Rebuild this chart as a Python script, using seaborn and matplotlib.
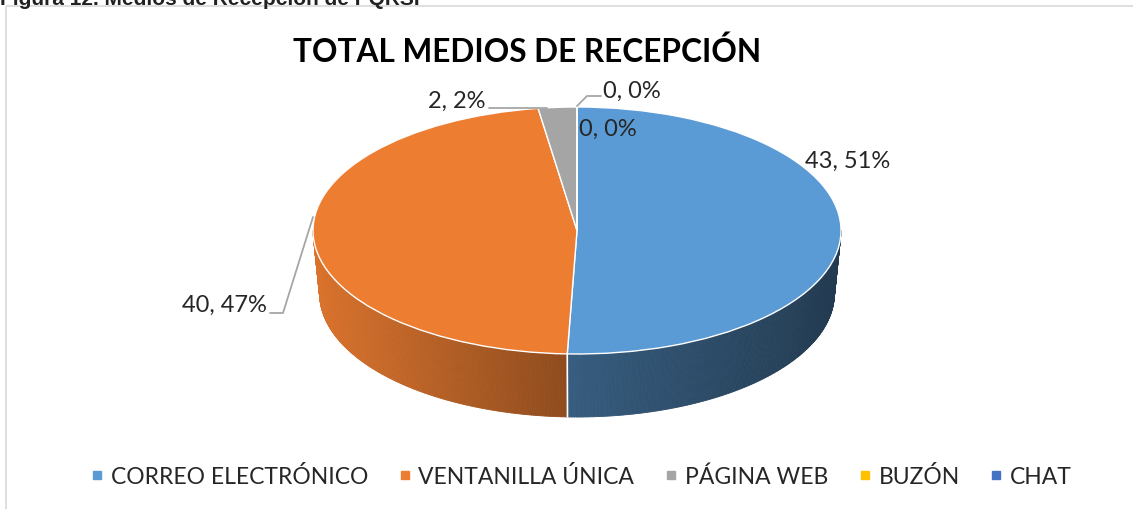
import numpy as np
import matplotlib
matplotlib.use("Agg")
import matplotlib.pyplot as plt
import seaborn as sns
from matplotlib.patches import Rectangle
from matplotlib.lines import Line2D
from matplotlib.collections import PolyCollection
from matplotlib.colors import to_rgb

# ---------------- data ----------------
categories = ["CORREO ELECTRÓNICO", "VENTANILLA ÚNICA", "PÁGINA WEB", "BUZÓN", "CHAT"]
values = [43, 40, 2, 0, 0]
colors = ["#5B9BD5", "#ED7D31", "#A5A5A5", "#FFC000", "#4472C4"]
title = "TOTAL MEDIOS DE RECEPCIÓN"
caption = "Figura 12. Medios de Recepción de PQRSF"

sns.set_theme(style="white")
plt.rcParams['font.family'] = ['Lato', 'DejaVu Sans']

W, H = 1133, 510
fig = plt.figure(figsize=(W / 100, H / 100), dpi=100)
fig.patch.set_facecolor("white")

# pie geometry (pixels)
cx, cy, rx, ry, depth = 577, 231.5, 264, 123.5, 63
k_bottom = 0.975

ax = fig.add_axes([0, 0, 1, 1])
wedges, _ = ax.pie(values, colors=colors, startangle=90, counterclock=False,
                   radius=1, center=(0, 0), frame=True,
                   wedgeprops=dict(edgecolor="white", linewidth=1.0))
for w in wedges:
    w.set_zorder(3)
ax.set_aspect("auto")
ax.set_xlim((0 - cx) / rx, (W - cx) / rx)
ax.set_ylim((cy - H) / ry, (cy - 0) / ry)
ax.axis("off")

d = depth / ry


def shade(c):
    return 0.59 - 0.33 * c if c < 0 else 0.59 - 0.21 * c


polys, pcols = [], []
edges = []
for w, col in zip(wedges, colors):
    t1, t2 = w.theta1, w.theta2
    if t2 - t1 <= 0:
        continue
    base = np.array(to_rgb(col))
    angs = np.linspace(t1, t2, max(int((t2 - t1) * 2), 2))
    for a, b in zip(angs[:-1], angs[1:]):
        m = np.deg2rad((a + b) / 2)
        if np.sin(m) >= 0:
            continue
        ra, rb = np.deg2rad(a), np.deg2rad(b)
        quad = [(np.cos(ra), np.sin(ra)), (np.cos(rb), np.sin(rb)),
                (k_bottom * np.cos(rb), np.sin(rb) - d),
                (k_bottom * np.cos(ra), np.sin(ra) - d)]
        polys.append(quad)
        pcols.append(tuple(np.clip(base * shade(np.cos(m)), 0, 1)))
    for t in (t1, t2):
        r = np.deg2rad(t)
        if np.sin(r) < -0.01:
            edges.append(r)

pc = PolyCollection(polys, facecolors=pcols, edgecolors=pcols, linewidths=0.6, zorder=1)
ax.add_collection(pc)
for r in set(np.round(edges, 6)):
    ax.plot([np.cos(r), k_bottom * np.cos(r)], [np.sin(r), np.sin(r) - d],
            color="white", lw=1.2, zorder=2)

# ---------------- overlay in pixel coords ----------------
ax2 = fig.add_axes([0, 0, 1, 1], facecolor="none", zorder=5)
ax2.set_xlim(0, W)
ax2.set_ylim(H, 0)
ax2.axis("off")

ax2.add_patch(Rectangle((6, 7), 1300, 700, fill=False, ec="#D9D9D9", lw=1.2))
ax2.text(0, 5, caption, fontsize=15, fontweight="bold", family=["Liberation Sans"],
         va="baseline", ha="left", color="#222222")

ax2.text(527, 52, title, fontsize=22.8, fontweight="bold", ha="center", va="center",
         color="black")

pct = [round(v / sum(values) * 100) for v in values]
labels = [f"{v}, {p}%" for v, p in zip(values, pct)]
lab_fs = 17
ax2.text(805, 161, labels[0], fontsize=lab_fs, ha="left", va="center")
ax2.text(267, 305, labels[1], fontsize=lab_fs, ha="right", va="center")
ax2.text(486, 101, labels[2], fontsize=lab_fs, ha="right", va="center")
ax2.text(603, 91, labels[3], fontsize=lab_fs, ha="left", va="center")
ax2.text(579, 129, labels[4], fontsize=lab_fs, ha="left", va="center")

lc = "#A6A6A6"
ax2.plot([270, 283, 313], [314, 314, 218], color=lc, lw=1.3)
ax2.plot([489, 547], [108.5, 108.5], color=lc, lw=1.3)
ax2.plot([577, 587, 601], [107, 97, 97], color=lc, lw=1.3)

handles = [Line2D([0], [0], marker="s", linestyle="none", markersize=6,
                  markerfacecolor=c, markeredgecolor=c) for c in colors]
ax2.legend(handles, categories, loc="center", bbox_to_anchor=(581 / W, 1 - 477 / H),
           ncol=5, frameon=False, fontsize=16.5, handlelength=0.6, handletextpad=0.3,
           columnspacing=1.3, borderaxespad=0)

fig.savefig("out.png", dpi=100, facecolor="white")
